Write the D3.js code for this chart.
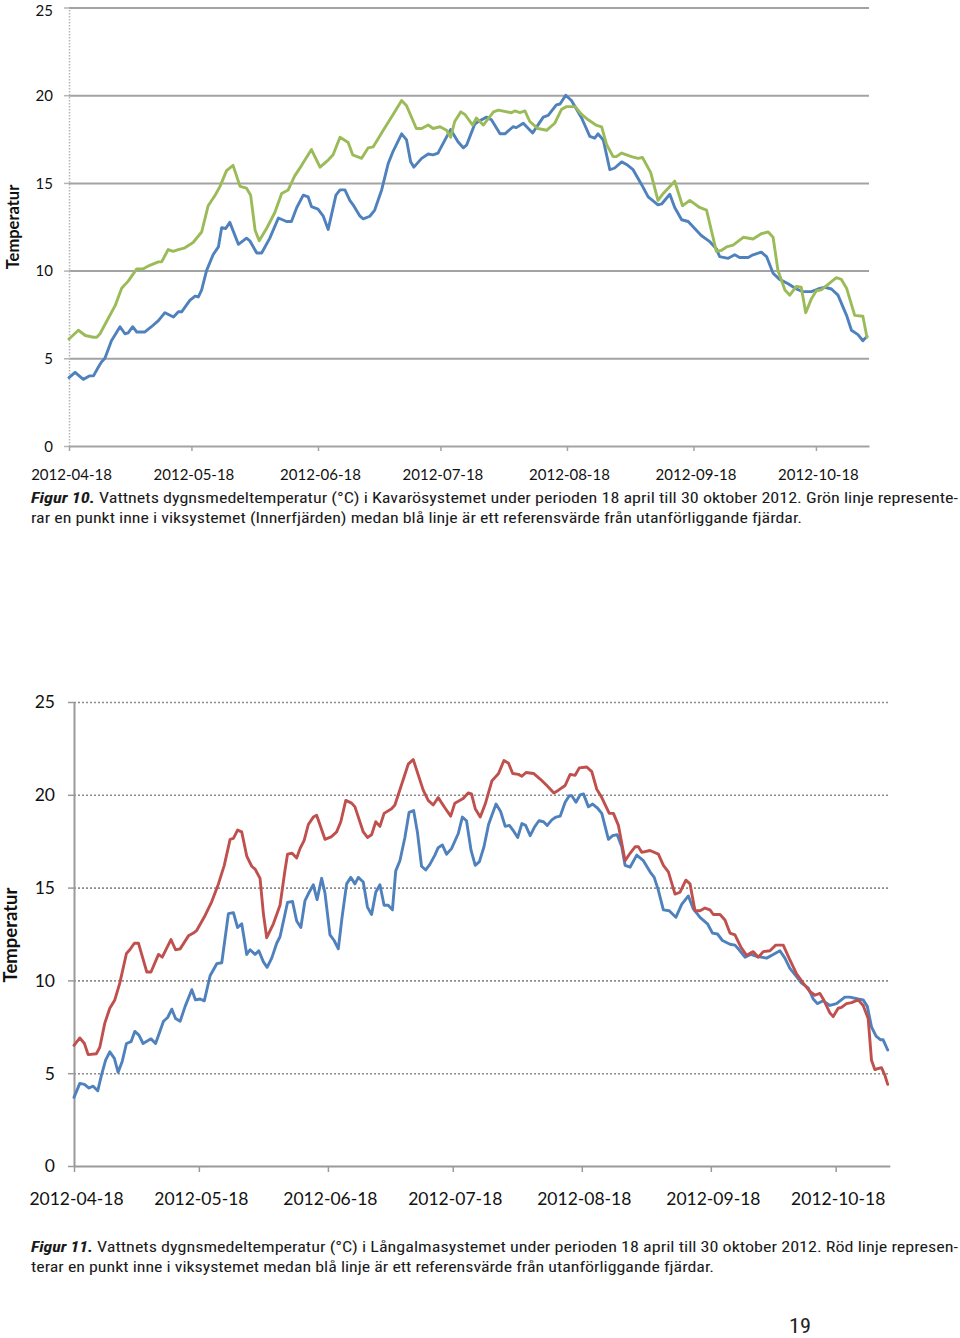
<!DOCTYPE html>
<html><head><meta charset="utf-8">
<script src="https://cdn.jsdelivr.net/npm/d3@7"></script>
<style>
html,body{margin:0;padding:0;background:#fff;}
svg{display:block;}
</style></head>
<body>
<svg id="page" width="960" height="1338"></svg>
<script>
// ---------- DATA ----------
const startDate = "2012-04-18";
const endDate = "2012-10-31";
const tickLabels = ["2012-04-18","2012-05-18","2012-06-18","2012-07-18","2012-08-18","2012-09-18","2012-10-18"];
const yTicks = [0,5,10,15,20,25];

// Figur 10 – Kavarösystemet: [day offset from 2012-04-18, °C]
const kavaGreen = [[0,6.1],[2.3,6.6],[4,6.3],[6,6.2],[6.8,6.2],[7.6,6.4],[9.2,7.1],[11.3,8.0],[12.9,9.0],[14.5,9.4],[16.6,10.1],[18.2,10.1],[19.8,10.3],[21.9,10.5],[22.7,10.5],[24.3,11.2],[25.5,11.1],[26.8,11.2],[28.4,11.3],[30.4,11.6],[32.5,12.2],[34.1,13.7],[35.8,14.3],[37,14.8],[38.6,15.7],[40.2,16.0],[41.9,14.8],[43.5,14.7],[44.5,14.3],[45.6,12.3],[46.6,11.7],[48.4,12.4],[50.4,13.3],[52.1,14.4],[53.7,14.6],[55.3,15.4],[57,16.0],[59.4,16.9],[61.5,15.9],[63.5,16.3],[64.7,16.6],[66.4,17.6],[68.4,17.3],[69.5,16.6],[71.7,16.4],[73.3,17.0],[74.5,17.05],[77,18.0],[79.4,18.9],[81.5,19.7],[82.7,19.4],[85.1,18.1],[86.4,18.1],[88,18.3],[89.2,18.1],[90.9,18.2],[92.5,18.0],[93.5,17.6],[94.5,18.5],[96,19.05],[97,18.9],[98.9,18.3],[99.8,18.7],[101.5,18.3],[104,19.05],[105.2,19.15],[108.4,19.0],[109.2,19.1],[110.5,19.0],[111.7,19.1],[112.9,18.5],[114.9,18.1],[117,18.0],[119,18.4],[120.7,19.2],[121.9,19.35],[124,19.35],[125.6,18.9],[127.2,18.6],[129.1,18.3],[130.5,18.2],[131.7,17.2],[133.3,16.5],[134.1,16.5],[135.4,16.7],[137.8,16.5],[139.4,16.4],[140.5,16.45],[142.5,15.6],[144.3,14.0],[145.6,14.4],[148.4,15.1],[150.3,13.7],[152.1,14.0],[154.5,13.6],[156.2,13.45],[158.6,11.1],[159.8,11.15],[161.1,11.35],[162.7,11.45],[165.2,11.9],[167.6,11.8],[169.6,12.1],[171.3,12.2],[172.5,11.9],[173.7,10.0],[175.4,8.9],[176.6,8.6],[178.2,9.1],[179.4,9.05],[180.5,7.6],[181.9,8.4],[183.1,8.85],[184.3,8.9],[185.6,9.15],[188,9.6],[189.2,9.5],[190.5,9.0],[192.5,7.45],[194.5,7.4],[195.5,6.2]];
const kavaBlue = [[0,3.9],[1.5,4.2],[3.5,3.8],[5.1,4.0],[6,4.0],[7.2,4.5],[8,4.8],[8.8,5.0],[10.4,6.0],[12.5,6.8],[13.7,6.4],[14.5,6.45],[15.6,6.8],[16.6,6.5],[18.6,6.5],[20.2,6.8],[21.9,7.15],[23.5,7.6],[25.6,7.35],[26.8,7.65],[27.6,7.65],[29.6,8.3],[30.9,8.55],[31.7,8.5],[32.5,8.9],[33.7,10.0],[35.3,10.9],[36.6,11.35],[37.4,12.45],[38.4,12.4],[39.4,12.75],[41.5,11.5],[43.5,11.85],[44.3,11.7],[46,11.0],[47.2,11.0],[49.2,11.85],[51.3,13.0],[53.3,12.8],[54.5,12.8],[55.8,13.6],[57.4,14.3],[58.6,14.2],[59.4,13.65],[61,13.5],[62.3,13.1],[63.5,12.35],[65.4,14.3],[66.4,14.6],[67.6,14.6],[68.8,14.0],[69.6,13.75],[71.3,13.1],[72.1,12.95],[73.7,13.1],[74.9,13.45],[76.6,14.6],[78.2,16.1],[79.4,16.8],[81.5,17.8],[82.7,17.45],[83.7,16.2],[84.5,15.9],[86.4,16.4],[88,16.65],[89.2,16.6],[90.4,16.7],[91.3,17.1],[93.5,18.05],[95.3,17.35],[96.6,17.0],[97.4,17.15],[99.4,18.35],[100.3,18.5],[102.3,18.75],[103.5,18.6],[105.6,17.8],[106.8,17.8],[108.8,18.2],[109.6,18.15],[111.3,18.4],[113.6,17.85],[116.2,18.75],[117.4,18.85],[119.4,19.45],[120.3,19.5],[121.7,20.0],[123.1,19.7],[125.6,18.7],[127.6,17.65],[128.8,17.55],[129.6,17.8],[130.9,17.45],[132.5,15.75],[133.7,15.85],[135.4,16.2],[136.6,16.05],[138.2,15.75],[140.3,14.9],[141.9,14.2],[144.3,13.75],[145.2,13.8],[147.2,14.35],[148.4,13.6],[150.1,12.9],[151.7,12.8],[153.7,12.3],[154.9,12.0],[157,11.65],[158.6,11.25],[159.4,10.8],[161.5,10.7],[163.1,10.9],[164.3,10.75],[166.4,10.75],[167.6,10.9],[169.6,11.05],[170.9,10.8],[172.5,9.85],[174.1,9.5],[176.2,9.25],[178.2,8.95],[179.8,8.8],[181.9,8.8],[183.5,8.95],[185.2,9.05],[186.8,8.95],[188.4,8.6],[190.5,7.45],[191.7,6.6],[193.3,6.35],[194.5,6.0],[195.5,6.25]];

// Figur 11 – Långalmasystemet
const langRed = [[0,6.5],[1.4,6.9],[2.5,6.6],[3.4,6.0],[5.4,6.05],[6.2,6.4],[7.4,7.7],[8.6,8.5],[9.8,8.95],[11,9.85],[12.6,11.45],[13.4,11.65],[14.5,12.0],[15.5,12.0],[17.5,10.45],[18.5,10.45],[20.3,11.4],[21.2,11.25],[23.3,12.2],[24.4,11.65],[25.5,11.7],[27.5,12.4],[28.7,12.55],[29.5,12.7],[31.5,13.5],[33.1,14.25],[34.7,15.2],[36.1,16.2],[37.5,17.6],[38.3,17.65],[39.3,18.1],[40.3,18.0],[41.5,16.7],[42.7,16.15],[43.5,16.0],[44.7,15.5],[45.5,13.6],[46.3,12.3],[47.9,13.05],[49.5,14.05],[50.7,15.95],[51.3,16.8],[52.4,16.85],[53.5,16.6],[54.3,17.1],[55.3,17.55],[56.3,18.4],[57.5,18.8],[58.3,18.9],[60.3,17.6],[61.9,17.75],[63.1,18.0],[64.1,18.55],[65.3,19.7],[66.7,19.55],[67.5,19.35],[69.5,18.0],[70.5,17.7],[71.5,17.85],[72.5,18.55],[73.5,18.3],[74.5,19.0],[76.3,19.25],[77.1,19.45],[80.3,21.65],[81.5,21.9],[83.9,20.25],[85.1,19.7],[86.3,19.45],[87.5,19.85],[89.1,19.3],[90.5,18.85],[91.5,19.55],[93.5,19.8],[94.7,20.1],[95.5,20.05],[96.4,19.25],[97.6,18.8],[98.8,19.5],[100.4,20.75],[102,21.15],[103.3,21.85],[104.4,21.7],[105.4,21.15],[106.8,21.1],[107.6,21.0],[108.6,21.2],[110.4,21.15],[112,20.85],[113.6,20.5],[115.3,20.1],[116.4,20.25],[118,20.5],[119.2,21.1],[120.4,21.05],[121.4,21.45],[123.2,21.5],[124.4,21.25],[125.6,20.3],[126.8,19.85],[128.6,19.0],[129.6,19.0],[130.8,18.35],[132.4,16.45],[133.6,16.85],[134.8,17.2],[135.6,17.2],[136.4,16.9],[138.4,17.0],[140.4,16.8],[141.6,16.2],[142.8,15.85],[144.4,14.65],[145.6,14.75],[147,15.4],[148,15.2],[149.2,13.75],[150.4,13.75],[151.6,13.9],[152.8,13.8],[153.6,13.55],[155.2,13.55],[156.4,13.25],[157.6,12.55],[158.8,12.45],[160.2,11.8],[161.6,11.35],[163.2,11.55],[164.4,11.25],[165.6,11.55],[167.2,11.6],[168.6,11.9],[170.4,11.9],[172,11.1],[173.6,10.35],[175.2,9.85],[176.8,9.4],[178,9.2],[179.2,9.3],[180,9.0],[181.6,8.25],[182.4,8.05],[183.6,8.5],[184.4,8.55],[185.6,8.75],[186.8,8.8],[188.4,8.95],[189.6,8.65],[190.8,7.95],[191.6,5.7],[192.4,5.2],[194,5.3],[194.8,4.9],[195.5,4.4]];
const langBlue = [[0,3.7],[1.4,4.45],[2.5,4.4],[3.6,4.2],[4.6,4.3],[5.7,4.05],[6.6,4.9],[7.6,5.7],[8.6,6.15],[9.7,5.8],[10.6,5.05],[11.6,5.65],[12.6,6.6],[13.7,6.7],[14.6,7.25],[15.6,7.05],[16.6,6.6],[18.5,6.85],[19.6,6.6],[21.5,7.8],[22.5,8.0],[23.5,8.45],[24.4,7.95],[25.5,7.8],[26.7,8.6],[28.3,9.5],[29.2,8.95],[30.3,9.0],[31.3,8.9],[32.7,10.25],[34.3,10.9],[35.5,10.95],[37.1,13.6],[38.3,13.65],[39.3,12.85],[40.3,13.05],[41.5,11.4],[42.3,11.65],[43.5,11.4],[44.4,11.6],[45.5,11.0],[46.4,10.7],[47.5,11.2],[48.7,12.0],[49.5,12.35],[51.3,14.2],[52.5,14.25],[53.5,13.2],[54.5,12.85],[55.5,14.3],[56.5,14.75],[57.5,15.15],[58.4,14.35],[59.5,15.5],[60.3,14.7],[61.5,12.45],[62.5,12.15],[63.5,11.7],[64.4,13.4],[65.5,15.2],[66.5,15.55],[67.5,15.2],[68.3,15.55],[69.5,15.3],[70.5,13.95],[71.5,13.55],[72.5,14.75],[73.5,15.15],[74.5,14.05],[75.5,14.05],[76.5,13.8],[77.3,15.9],[78.3,16.45],[79.5,17.7],[80.5,19.05],[81.6,19.15],[82.5,18.0],[83.5,16.15],[84.5,15.95],[85.5,16.25],[86.7,16.75],[87.5,17.15],[88.5,17.3],[89.5,16.8],[90.7,17.1],[92.3,17.9],[93.3,18.8],[94.3,18.6],[95.4,17.0],[96.4,16.2],[97.4,16.4],[98.5,17.2],[99.6,18.4],[100.4,18.9],[101.4,19.5],[102.5,19.1],[103.6,18.3],[104.6,18.35],[105.6,18.05],[106.6,17.7],[107.6,18.45],[108.5,18.35],[109.6,17.8],[110.6,18.25],[111.7,18.6],[112.8,18.55],[113.7,18.35],[114.8,18.65],[115.8,18.8],[116.8,18.85],[118,19.6],[119,19.95],[119.6,19.95],[120.6,19.6],[121.6,20.0],[122.4,20.05],[123.6,19.35],[124.6,19.5],[125.7,19.3],[126.8,19.0],[128.4,17.6],[129.4,17.8],[130.5,17.85],[131.6,17.2],[132.4,16.2],[133.6,16.1],[135.2,16.75],[136.8,16.45],[138.4,15.85],[139.4,15.55],[140.4,14.85],[141.6,13.8],[143,13.75],[144.6,13.4],[146,14.1],[147.6,14.55],[148.8,13.85],[150.4,13.4],[152.2,13.05],[153.4,12.55],[154.6,12.5],[155.8,12.15],[157.6,11.95],[158.8,11.9],[159.8,11.65],[161.2,11.25],[162.6,11.4],[164,11.3],[166.4,11.2],[168,11.4],[169.6,11.6],[170.8,11.2],[172,10.65],[173.6,10.2],[174.8,9.85],[176.4,9.6],[177.6,9.0],[178.6,8.75],[180,8.9],[181.6,8.65],[183.2,8.75],[185.2,9.1],[186.4,9.1],[188.4,9.0],[189.6,8.95],[190.6,8.6],[191.6,7.5],[192.7,7.0],[193.8,6.8],[194.4,6.8],[195.5,6.25]];

// ---------- DRAWING ----------
const parse = d3.utcParse("%Y-%m-%d");
const t0 = parse(startDate), t1 = parse(endDate);
const dayDate = d => new Date(t0.getTime() + d * 864e5);
const svg = d3.select("#page");
const chartFont = "Lato, 'Open Sans', 'Liberation Sans', sans-serif";
const capFont = "'Roboto Condensed','Liberation Sans Narrow','DejaVu Sans Condensed',Roboto,sans-serif";

function drawChart(c) {
  const g = svg.append("g");
  const x = d3.scaleUtc().domain([t0, t1]).range([c.left, c.right]);
  const y = d3.scaleLinear().domain([0, 25]).range([c.bottom, c.top]);
  const w = c.right - c.left;

  // gridlines
  const grid = g.append("g").attr("transform", `translate(${c.left},0)`)
    .call(d3.axisLeft(y).tickValues(yTicks.filter(v => v > 0)).tickSize(-w).tickFormat(""));
  grid.select(".domain").remove();
  grid.selectAll("line").attr("stroke", c.gridColor).attr("stroke-width", c.gridWidth)
    .attr("stroke-dasharray", c.gridDash || null);

  // y axis
  const ya = g.append("g").attr("transform", `translate(${c.left},0)`)
    .call(d3.axisLeft(y).tickValues(yTicks).tickSize(c.yTick).tickPadding(c.yPad).tickSizeOuter(0));
  ya.select(".domain").attr("stroke", c.yAxisColor).attr("stroke-width", c.yAxisWidth)
    .attr("stroke-dasharray", c.yAxisDash || null);
  ya.selectAll(".tick line").attr("stroke", c.yAxisColor).attr("stroke-width", 1.5);
  ya.selectAll("text").attr("font-family", chartFont).attr("font-size", c.fs).attr("fill", "#111")
    .attr("dy", d => d === 25 ? c.topLabelDy : "0.34em");

  // x axis
  const xa = g.append("g").attr("transform", `translate(0,${c.bottom})`)
    .call(d3.axisBottom(x).tickValues(tickLabels.map(parse)).tickSize(c.xTick)
      .tickFormat(d3.utcFormat("%Y-%m-%d")).tickSizeOuter(0));
  xa.select(".domain").attr("stroke", c.xAxisColor).attr("stroke-width", c.xAxisWidth);
  xa.selectAll(".tick line").attr("stroke", c.xAxisColor).attr("stroke-width", 1.5);
  xa.selectAll("text").attr("font-family", chartFont).attr("font-size", c.fs).attr("fill", "#111")
    .attr("y", c.xLabelY).attr("dy", 0).attr("dx", 2);

  // series
  const line = d3.line().x(d => x(dayDate(d[0]))).y(d => y(d[1])).curve(d3.curveLinear);
  c.series.forEach(s => {
    g.append("path").datum(s.data).attr("d", line).attr("fill", "none")
      .attr("stroke", s.color).attr("stroke-width", 2.9)
      .attr("stroke-linejoin", "round").attr("stroke-linecap", "round");
  });

  // y title
  g.append("text").attr("transform", `translate(${c.titleX},${c.titleY}) rotate(-90)`)
    .attr("text-anchor", "middle").attr("font-family", chartFont).attr("font-weight", "bold")
    .attr("font-size", c.titleFs).attr("fill", "#111").text("Temperatur");
}

drawChart({
  left: 69, right: 869, top: 7.5, bottom: 446,
  gridColor: "#a3a3a3", gridWidth: 2, gridDash: null,
  yAxisColor: "#b5b5b5", yAxisWidth: 1.5, yAxisDash: "1.5,1.5",
  xAxisColor: "#a3a3a3", xAxisWidth: 2,
  yTick: 5, yPad: 11, xTick: 5, xLabelY: 34, fs: 15, topLabelDy: "0.5em",
  titleX: 19, titleY: 227, titleFs: 16.5,
  series: [{data: kavaBlue, color: "#4F81BD"}, {data: kavaGreen, color: "#9BBB59"}]
});

drawChart({
  left: 74, right: 889.8, top: 702, bottom: 1166,
  gridColor: "#8c8c8c", gridWidth: 1.6, gridDash: "2,2",
  yAxisColor: "#9a9a9a", yAxisWidth: 2, yAxisDash: null,
  xAxisColor: "#9a9a9a", xAxisWidth: 2,
  yTick: 6, yPad: 13, xTick: 6, xLabelY: 39, fs: 17.5, topLabelDy: "0.34em",
  titleX: 17, titleY: 935, titleFs: 18.5,
  series: [{data: langBlue, color: "#4F81BD"}, {data: langRed, color: "#C0504D"}]
});

// ---------- CAPTIONS ----------
function capText(xp, yp, len, txt, bold) {
  svg.append("text").attr("x", xp).attr("y", yp)
    .attr("font-family", capFont).attr("font-size", 15.5).attr("fill", "#1a1a1a")
    .attr("font-weight", bold ? "bold" : "normal").attr("font-style", bold ? "italic" : "normal")
    .attr("textLength", len).attr("lengthAdjust", "spacingAndGlyphs").text(txt);
}
capText(31, 503, 64, "Figur 10.", true);
capText(99, 503, 859, "Vattnets dygnsmedeltemperatur (°C) i Kavarösystemet under perioden 18 april till 30 oktober 2012. Grön linje represente-");
capText(31, 523, 771, "rar en punkt inne i viksystemet (Innerfjärden) medan blå linje är ett referensvärde från utanförliggande fjärdar.");
capText(31, 1252, 62, "Figur 11.", true);
capText(97, 1252, 861, "Vattnets dygnsmedeltemperatur (°C) i Långalmasystemet under perioden 18 april till 30 oktober 2012. Röd linje represen-");
capText(31, 1272, 683, "terar en punkt inne i viksystemet medan blå linje är ett referensvärde från utanförliggande fjärdar.");

svg.append("text").attr("x", 789).attr("y", 1333).attr("font-family", capFont)
  .attr("font-size", 20).attr("fill", "#222").attr("textLength", 22)
  .attr("lengthAdjust", "spacingAndGlyphs").text("19");
</script>
</body></html>
